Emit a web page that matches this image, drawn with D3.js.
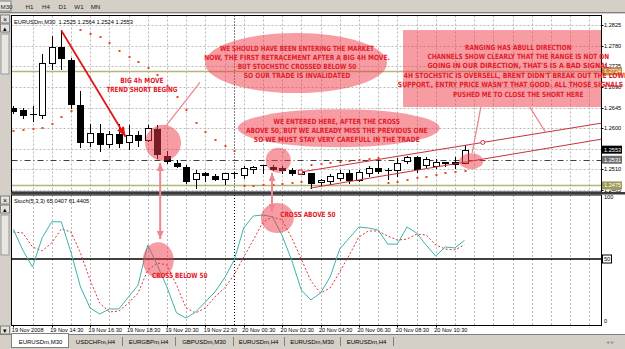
<!DOCTYPE html>
<html>
<head>
<meta charset="utf-8">
<script src="https://cdn.jsdelivr.net/npm/d3@7"></script>
<style>
  body { margin: 0; background: #d4d0c8; overflow: hidden; }
  svg { display: block; }
  text { font-family: "Liberation Sans", Arial, sans-serif; }
  .note { font-family: "DejaVu Sans Condensed", "DejaVu Sans", sans-serif; font-weight: bold; fill: #e3202b; }
</style>
</head>
<body>
<div id="canvas"></div>
<script>
// ---- data ----
const periods = ["M30", "H1", "H4", "D1", "W1", "MN"];
const tabNames = ["EURUSDm,M30", "USDCHFm,H4", "EURGBPm,H4", "GBPUSDm,M30", "EURUSDm,H4", "EURUSDm,M30", "EURUSDm,H4"];
const timeLabels = ["19 Nov 2008", "19 Nov 14:30", "19 Nov 16:30", "19 Nov 18:30", "19 Nov 20:30", "19 Nov 22:30",
                    "20 Nov 00:30", "20 Nov 02:30", "20 Nov 04:30", "20 Nov 06:30", "20 Nov 08:30", "20 Nov 10:30"];
const priceTicks = [1.2825, 1.2780, 1.2735, 1.2690, 1.2645, 1.2600, 1.2555, 1.2510, 1.2465];

const opens  = [1.2645,1.2640,1.2630,1.2627,1.2741,1.2776,1.2749,1.2651,1.2571,1.2590,1.2566,1.2588,1.2571,1.2586,1.2575,1.2599,
                1.2540,1.2525,1.2516,1.2488,1.2501,1.2495,1.2488,1.2501,1.2499,1.2512,1.2518,1.2516,1.2514,1.2508,1.2501,1.2501,
                1.2481,1.2484,1.2492,1.2503,1.2488,1.2503,1.2512,1.2508,1.2510,1.2527,1.2536,1.2520,1.2518,1.2525,1.2527,1.2525];
const highs  = [1.2649,1.2645,1.2648,1.2762,1.2800,1.2813,1.2752,1.2682,1.2610,1.2610,1.2594,1.2610,1.2606,1.2594,1.2606,1.2606,
                1.2551,1.2530,1.2520,1.2508,1.2505,1.2499,1.2503,1.2505,1.2518,1.2518,1.2519,1.2520,1.2518,1.2512,1.2507,1.2503,
                1.2490,1.2499,1.2508,1.2508,1.2508,1.2518,1.2530,1.2512,1.2534,1.2540,1.2540,1.2538,1.2532,1.2527,1.2536,1.2564];
const lows   = [1.2634,1.2623,1.2616,1.2622,1.2730,1.2730,1.2645,1.2558,1.2562,1.2551,1.2558,1.2558,1.2555,1.2562,1.2571,1.2534,
                1.2523,1.2516,1.2481,1.2470,1.2484,1.2486,1.2479,1.2492,1.2492,1.2503,1.2503,1.2508,1.2503,1.2497,1.2499,1.2470,
                1.2475,1.2479,1.2486,1.2481,1.2484,1.2495,1.2503,1.2490,1.2495,1.2523,1.2505,1.2512,1.2514,1.2518,1.2514,1.2524];
const closes = [1.2638,1.2630,1.2631,1.2741,1.2776,1.2752,1.2654,1.2571,1.2590,1.2566,1.2588,1.2569,1.2586,1.2575,1.2601,1.2545,
                1.2530,1.2518,1.2486,1.2501,1.2497,1.2488,1.2501,1.2502,1.2514,1.2516,1.2519,1.2512,1.2510,1.2501,1.2505,1.2479,
                1.2486,1.2495,1.2503,1.2488,1.2505,1.2514,1.2505,1.2507,1.2525,1.2536,1.2510,1.2532,1.2527,1.2527,1.2523,1.2553];
// parabolic SAR dots
const sar = [1.2594,1.2596,1.2598,1.2600,1.2609,1.2624,1.2637,
             1.2814,1.2805,1.2799,1.2786,1.2768,1.2755,1.2744,1.2731,1.2716,1.2692,1.2668,1.2640,1.2611,1.2592,1.2574,1.2561,1.2550,
             1.2474,1.2474,1.2476,1.2476,1.2478,1.2480,1.2482,
             1.2520,1.2522,1.2524,1.2526,1.2528,1.2530,1.2533,1.2535,
             1.2480,1.2482,1.2487,1.2491,1.2493,1.2498,1.2502,1.2504,1.2506];
const stochK = [74,57,43.5,67,80,80,55.6,27.4,10.5,5.6,9.7,9.7,19.4,29,61.3,45,27.4,6.5,2.4,7.3,15.3,23.4,34.7,49,
                75,84.7,85.5,84,69,49,25,17,22.6,35.5,58,67,75.8,75,73.4,62,62,75.8,71,61.3,52.4,59.7,58.9,65.04];
const stochD = [71.8,71,59.7,56.5,62.9,74.2,71.8,54.8,33,14.5,7.3,8,14.5,22.6,41,46.8,45.2,29,10.5,6.5,10.5,19.4,26.6,37,
                51.6,65.3,79.8,83.9,81.5,67,50,32.3,22.6,26.6,39.5,53.2,67.7,72.6,72.6,68.5,65.3,66,70,69.4,61.3,58,57.3,61.44];
const stochTicks = [100, 50, 0];
const levelLines = [1.2724, 1.2475];
const dashLevel = 1.2531;
const lastClose = 1.2553;
const headerText = "EURUSDm,M30  1.2525 1.2564 1.2524 1.2553";
const stochText = "Stoch(5,3,3) 65.0407 61.4405";

// ---- layout ----
const W = 625, H = 349;
const L = 11.5, R = 601.5, mT = 15.5, mB = 192, sT = 195, sB = 325.5;

const x = d3.scaleLinear().domain([0, 47]).range([13.3, 464.5]);
const y = d3.scaleLinear().domain([1.2465, 1.2825]).range([190, 25]);
const ys = d3.scaleLinear().domain([0, 100]).range([321, 197]);
const px = v => Math.round(v) + 0.5;

const svg = d3.select("#canvas").append("svg").attr("width", W).attr("height", H);
const defs = svg.append("defs");
defs.append("clipPath").attr("id", "clipMain").append("rect").attr("x", L).attr("y", mT).attr("width", R - L).attr("height", mB - mT);
defs.append("clipPath").attr("id", "clipStoch").append("rect").attr("x", L).attr("y", sT).attr("width", R - L).attr("height", sB - sT);
function marker(id, color, w, h) {
  defs.append("marker").attr("id", id).attr("markerUnits", "userSpaceOnUse")
    .attr("markerWidth", w).attr("markerHeight", h).attr("refX", w).attr("refY", h / 2)
    .attr("orient", "auto-start-reverse")
    .append("path").attr("d", `M0,0L${w},${h / 2}L0,${h}z`).attr("fill", color);
}
marker("redHead", "#e01818", 10, 8);
marker("pinkHead", "#f0868e", 8, 7);

// window chrome
svg.append("rect").attr("width", W).attr("height", H).attr("fill", "#d4d0c8");
svg.append("line").attr("x1", 0).attr("x2", W).attr("y1", 12.5).attr("y2", 12.5).attr("stroke", "#808080");
svg.append("rect").attr("x", -4).attr("y", 1).attr("width", 15).attr("height", 10).attr("fill", "#e8e6e0").attr("stroke", "#808080");
svg.selectAll(".per").data(periods).join("text")
  .attr("x", (d, i) => i === 0 ? 0.5 : 13 + i * 16.5).attr("y", 8.5).attr("text-anchor", (d, i) => i === 0 ? "start" : "middle")
  .attr("font-size", 6.2).attr("fill", "#222").text(d => d);

// left strip buttons
function btn(yy, sym) {
  svg.append("rect").attr("x", 0.5).attr("y", yy).attr("width", 9).attr("height", 8).attr("fill", "#e4e2dc").attr("stroke", "#808080");
  svg.append("text").attr("x", 5).attr("y", yy + 6.5).attr("text-anchor", "middle").attr("font-size", 7).attr("fill", "#000").text(sym);
}
btn(15, "×"); btn(24, "▴"); btn(196, "×"); btn(205, "▴"); btn(326, "▾");
svg.append("rect").attr("x", 1).attr("y", 34).attr("width", 8).attr("height", 40).attr("fill", "#e8e6e0").attr("stroke", "#9a9a9a");
svg.append("rect").attr("x", 1).attr("y", 215).attr("width", 8).attr("height", 40).attr("fill", "#e8e6e0").attr("stroke", "#9a9a9a");

// white chart surface
svg.append("rect").attr("x", 11).attr("y", 14).attr("width", W - 11).attr("height", 320).attr("fill", "#fff");

// ---- main pane ----
const gMain = svg.append("g").attr("clip-path", "url(#clipMain)");
const vIdx = d3.range(2, 62, 2);
gMain.selectAll(".vg").data(vIdx).join("line")
  .attr("x1", d => px(x(d))).attr("x2", d => px(x(d))).attr("y1", mT).attr("y2", mB)
  .attr("stroke", "#b8b8b8").attr("stroke-dasharray", "2,2");
gMain.selectAll(".hg").data(priceTicks).join("line")
  .attr("x1", L).attr("x2", R).attr("y1", d => px(y(d))).attr("y2", d => px(y(d)))
  .attr("stroke", "#b8b8b8").attr("stroke-dasharray", "2,2");
gMain.append("line").attr("x1", px(x(23))).attr("x2", px(x(23))).attr("y1", mT).attr("y2", mB)
  .attr("stroke", "#000").attr("stroke-dasharray", "1,2");
gMain.selectAll(".lvl").data(levelLines).join("line")
  .attr("x1", L).attr("x2", R).attr("y1", d => px(y(d))).attr("y2", d => px(y(d)))
  .attr("stroke", "#b4b47c").attr("stroke-width", 1.3);
gMain.append("line").attr("x1", L).attr("x2", R).attr("y1", px(y(dashLevel))).attr("y2", px(y(dashLevel)))
  .attr("stroke", "#404040").attr("stroke-dasharray", "6,3,1,3");

const bars = opens.map((o, i) => ({ i, o, h: highs[i], l: lows[i], c: closes[i] }));
gMain.selectAll(".wick").data(bars).join("line")
  .attr("x1", d => px(x(d.i))).attr("x2", d => px(x(d.i)))
  .attr("y1", d => Math.round(y(d.h))).attr("y2", d => Math.round(y(d.l)) + 1)
  .attr("stroke", "#000");
gMain.selectAll(".body").data(bars).join("rect")
  .attr("x", d => Math.round(x(d.i)) - 2.5)
  .attr("y", d => Math.round(y(Math.max(d.o, d.c))) + 0.5)
  .attr("width", 6)
  .attr("height", d => Math.max(0.01, Math.round(Math.abs(y(d.o) - y(d.c)))))
  .attr("fill", d => d.c > d.o ? "#fff" : "#000").attr("stroke", "#000");
gMain.selectAll(".sar").data(sar).join("rect")
  .attr("x", (d, i) => Math.round(x(i)) - 0.5).attr("y", d => Math.round(y(d)) - 1)
  .attr("width", 2).attr("height", 2).attr("fill", "#e4481e");

// channel lines
const chan = [
  [[29.9, 1.2504], [61.3, 1.2611]],
  [[30.9, 1.2469], [61.3, 1.2576]]
];
gMain.selectAll(".chan").data(chan).join("line")
  .attr("x1", d => x(d[0][0])).attr("y1", d => y(d[0][1]))
  .attr("x2", d => x(d[1][0])).attr("y2", d => y(d[1][1]))
  .attr("stroke", "#c8303a").attr("stroke-width", 1);
gMain.append("rect").attr("x", x(29.9) - 2).attr("y", y(1.2504) - 2).attr("width", 4).attr("height", 4)
  .attr("fill", "#fff").attr("stroke", "#c8303a");
gMain.append("circle").attr("cx", x(48.9)).attr("cy", y(1.2504 + (1.2611 - 1.2504) * (48.9 - 29.9) / 31.4)).attr("r", 2)
  .attr("fill", "#fff").attr("stroke", "#c8303a");

// big red trend arrow
gMain.append("line").attr("x1", x(5)).attr("y1", y(1.2813)).attr("x2", x(11.7)).attr("y2", y(1.2581))
  .attr("stroke", "#e01818").attr("stroke-width", 1.8).attr("marker-end", "url(#redHead)");

// pink highlight shapes
const pink = "#ee3a46", pinkOp = 0.5;
gMain.append("rect").attr("x", x(40.6)).attr("y", y(1.2814)).attr("width", 220).attr("height", y(1.2646) - y(1.2814))
  .attr("fill", pink).attr("fill-opacity", pinkOp);
gMain.append("ellipse").attr("cx", x(29.45)).attr("cy", y(1.2742)).attr("rx", 91).attr("ry", 30)
  .attr("fill", pink).attr("fill-opacity", pinkOp);
gMain.append("ellipse").attr("cx", x(33.9)).attr("cy", y(1.2600)).attr("rx", 101).attr("ry", 19)
  .attr("fill", pink).attr("fill-opacity", pinkOp);
gMain.append("circle").attr("cx", x(15.6)).attr("cy", y(1.2568)).attr("r", 18)
  .attr("fill", pink).attr("fill-opacity", pinkOp);
gMain.append("circle").attr("cx", x(27.6)).attr("cy", y(1.2530)).attr("r", 12.5)
  .attr("fill", pink).attr("fill-opacity", pinkOp);
gMain.append("ellipse").attr("cx", x(47.7)).attr("cy", y(1.2528)).attr("rx", 12).attr("ry", 8)
  .attr("fill", pink).attr("fill-opacity", pinkOp);

// pointer lines
const pointers = [
  [[19.45, 1.2700], [15.8, 1.2602]],
  [[28.4, 1.2555], [28.1, 1.2545]],
  [[48.7, 1.2646], [47.8, 1.2546]],
  [[53.8, 1.2646], [55.5, 1.2589]]
];
gMain.selectAll(".ptr").data(pointers).join("line")
  .attr("x1", d => x(d[0][0])).attr("y1", d => y(d[0][1]))
  .attr("x2", d => x(d[1][0])).attr("y2", d => y(d[1][1]))
  .attr("stroke", "#f0868e").attr("stroke-width", 1.3);

// ---- stochastic pane ----
const gSt = svg.append("g").attr("clip-path", "url(#clipStoch)");
gSt.selectAll(".vg").data(vIdx).join("line")
  .attr("x1", d => px(x(d))).attr("x2", d => px(x(d))).attr("y1", sT).attr("y2", sB)
  .attr("stroke", "#b8b8b8").attr("stroke-dasharray", "2,2");
gSt.append("line").attr("x1", px(x(23))).attr("x2", px(x(23))).attr("y1", sT).attr("y2", sB)
  .attr("stroke", "#000").attr("stroke-dasharray", "1,2");
gSt.append("line").attr("x1", L).attr("x2", R).attr("y1", ys(50)).attr("y2", ys(50))
  .attr("stroke", "#000").attr("stroke-width", 1.4);
const sLine = d3.line().x((d, i) => x(i)).y(d => ys(d));
gSt.append("path").attr("d", sLine(stochD)).attr("fill", "none")
  .attr("stroke", "#e0303a").attr("stroke-dasharray", "2,2");
gSt.append("path").attr("d", sLine(stochK)).attr("fill", "none").attr("stroke", "#3bb3aa");
gSt.append("ellipse").attr("cx", x(15.1)).attr("cy", ys(49)).attr("rx", 15.5).attr("ry", 18)
  .attr("fill", pink).attr("fill-opacity", pinkOp);
gSt.append("ellipse").attr("cx", x(27.5)).attr("cy", ys(83)).attr("rx", 16.5).attr("ry", 15)
  .attr("fill", pink).attr("fill-opacity", pinkOp);

// frames and pane separator
svg.append("rect").attr("x", L).attr("y", mT).attr("width", R - L).attr("height", mB - mT).attr("fill", "none").attr("stroke", "#000");
svg.append("rect").attr("x", L).attr("y", sT).attr("width", R - L).attr("height", sB - sT).attr("fill", "none").attr("stroke", "#000");
svg.append("rect").attr("x", 11).attr("y", 192).attr("width", W - 11).attr("height", 2.5).attr("fill", "#3a3a3a");

// double pink arrows linking panes
const links = [[15.3, 163, 239], [26.95, 173, 212]];
svg.selectAll(".link").data(links).join("line")
  .attr("x1", d => x(d[0])).attr("x2", d => x(d[0])).attr("y1", d => d[1]).attr("y2", d => d[2])
  .attr("stroke", "#f0868e").attr("stroke-width", 2)
  .attr("marker-start", "url(#pinkHead)").attr("marker-end", "url(#pinkHead)");

// ---- axes text ----
svg.selectAll(".pt").data(priceTicks).join("text")
  .attr("x", 604).attr("y", d => y(d) + 2).attr("font-size", 5.6).attr("fill", "#000")
  .text(d => d.toFixed(4));
svg.selectAll(".ptk").data(priceTicks).join("line")
  .attr("x1", R).attr("x2", R + 2).attr("y1", d => px(y(d))).attr("y2", d => px(y(d))).attr("stroke", "#000");

function priceTag(v, bg, fg) {
  svg.append("rect").attr("x", 602).attr("y", y(v) - 4).attr("width", 20).attr("height", 8).attr("fill", bg);
  svg.append("text").attr("x", 604).attr("y", y(v) + 2).attr("font-size", 5.6).attr("fill", fg).text(v.toFixed(4));
}
priceTag(levelLines[0], "#c48a3c", "#fff");
priceTag(levelLines[1], "#9c9c58", "#fff");
priceTag(dashLevel, "#6e6e6e", "#fff");
priceTag(lastClose, "#000", "#fff");

svg.selectAll(".st").data(stochTicks).join("text")
  .attr("x", 604).attr("y", d => ys(d) + 2).attr("font-size", 5.6).attr("fill", "#000").text(d => d);
svg.append("rect").attr("x", 602.5).attr("y", ys(50) - 4).attr("width", 9).attr("height", 8)
  .attr("fill", "#fff").attr("stroke", "#000");
svg.append("text").attr("x", 604).attr("y", ys(50) + 2).attr("font-size", 5.6).text("50");

const tIdx = timeLabels.map((t, k) => k * 4);
svg.selectAll(".tl").data(timeLabels).join("text")
  .attr("x", (d, k) => x(tIdx[k]) - 1.5).attr("y", 331.5).attr("font-size", 5.6).attr("fill", "#000").text(d => d);
svg.selectAll(".tt").data(tIdx).join("line")
  .attr("x1", d => px(x(d))).attr("x2", d => px(x(d))).attr("y1", sB).attr("y2", sB + 2).attr("stroke", "#000");

svg.append("text").attr("x", 14).attr("y", 23.5).attr("font-size", 5.7).attr("fill", "#000").attr("xml:space", "preserve").text(headerText);
svg.append("text").attr("x", 14).attr("y", 203).attr("font-size", 5.7).attr("fill", "#000").text(stochText);

// ---- tabs ----
svg.append("rect").attr("x", 0).attr("y", 334).attr("width", W).attr("height", 15).attr("fill", "#d4d0c8");
svg.append("line").attr("x1", 0).attr("x2", W).attr("y1", 334.5).attr("y2", 334.5).attr("stroke", "#808080");
const tabX = [12, 69, 122, 175, 233, 284, 340, 393];
svg.append("rect").attr("x", 11.5).attr("y", 333.5).attr("width", 57).attr("height", 14).attr("fill", "#fff").attr("stroke", "#808080");
svg.selectAll(".tab").data(tabNames).join("text")
  .attr("x", (d, k) => (tabX[k] + tabX[k + 1]) / 2).attr("y", 343.5).attr("text-anchor", "middle")
  .attr("font-size", 6).attr("fill", "#000").text(d => d);
svg.selectAll(".tsep").data(tabX.slice(2)).join("line")
  .attr("x1", d => d + 0.5).attr("x2", d => d + 0.5).attr("y1", 337).attr("y2", 346).attr("stroke", "#808080");
svg.append("text").attr("x", 606).attr("y", 343.5).attr("font-size", 6).attr("fill", "#909090").text("◂  ▸");

// ---- annotation texts ----
function notes(lines, cx, y0, step, anchor) {
  lines.forEach((t, k) => svg.append("text").attr("class", "note")
    .attr("x", cx).attr("y", y0 + k * step).attr("text-anchor", anchor || "middle")
    .attr("font-size", 7.2).attr("textLength", t.length * 3.95).attr("lengthAdjust", "spacingAndGlyphs").text(t));
}
notes(["BIG 4h MOVE", "TREND SHORT BEGING"], x(13.4), 82.5, 9);
notes(["WE SHOULD HAVE BEEN ENTERING THE MARKET",
       "NOW, THE FIRST RETRACEMENT AFTER A BIG 4H MOVE.",
       "BUT STOCHSTIC CROSSED BELOW 50",
       "SO OUR TRADE IS INVALIDATED"], x(29.55), 50.5, 9.3);
notes(["WE ENTERED HERE, AFTER THE CROSS",
       "ABOVE 50, BUT WE ALREADY MISS THE PREVIOUS ONE",
       "SO WE MUST STAY VERY CAREFULL IN THE TRADE"], x(33.7), 123.5, 9);
notes(["RANGING HAS ABULL DIRECTION",
       "CHANNELS SHOW CLEARLY THAT THE RANGE IS NOT ON",
       "GOING IN OUR DIRECTION, THAT'S IS A BAD SIGNAL",
       "4H STOCHSTIC IS OVERSELL, BRENT DIDN'T BREAK OUT THE LOWER",
       "SUPPORT., ENTRY PRICE WASN'T THAT GOOD. ALL THOSE SIGNALS ARE",
       "PUSHED ME TO CLOSE THE SHORT HERE"], x(52.6), 49.5, 9.4);
notes(["CROSS BELOW 50"], x(14.45), 277.5, 9, "start");
notes(["CROSS ABOVE 50"], x(27.8), 216.5, 9, "start");
</script>
</body>
</html>
